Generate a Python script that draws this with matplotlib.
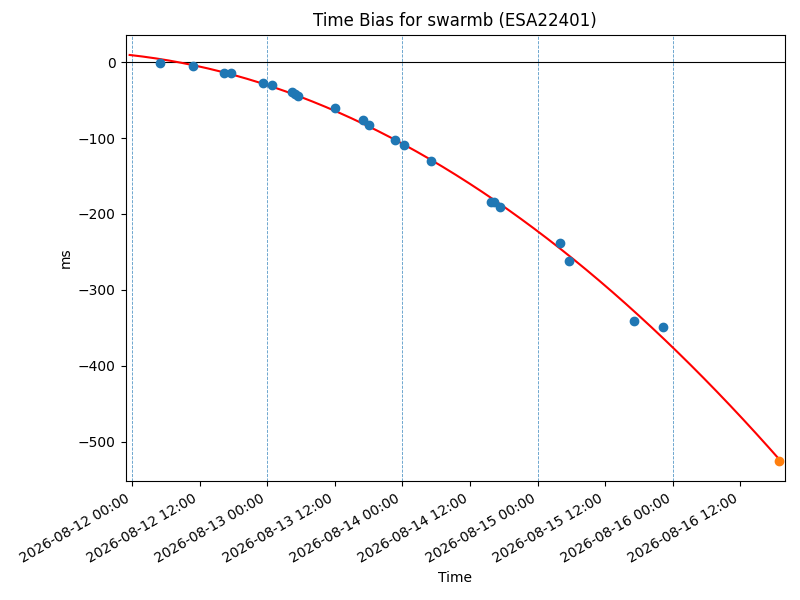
import matplotlib
matplotlib.use("Agg")
import matplotlib.pyplot as plt
import matplotlib.dates as mdates
import numpy as np
import pandas as pd

# Measured time bias points (ms)
times = ["2026-08-12 04:54", "2026-08-12 10:45", "2026-08-12 16:25", "2026-08-12 17:34",
         "2026-08-12 23:10", "2026-08-13 00:46", "2026-08-13 04:22", "2026-08-13 05:01",
         "2026-08-13 05:27", "2026-08-13 12:07", "2026-08-13 17:05", "2026-08-13 17:59",
         "2026-08-13 22:45", "2026-08-14 00:19", "2026-08-14 05:05", "2026-08-14 15:40",
         "2026-08-14 16:16", "2026-08-14 17:20", "2026-08-15 04:02", "2026-08-15 05:37",
         "2026-08-15 17:10", "2026-08-15 22:18"]
bias_ms = [-1.3, -4.9, -14.5, -14.5, -27.7, -30.3, -39.5, -41.8, -44.0, -60.2,
           -76.5, -83.0, -102.8, -109.0, -130.0, -184.1, -184.1, -191.1,
           -238.5, -262.3, -341.0, -348.8]

# Predicted point
pred_time = "2026-08-16 18:49"
pred_ms = -525.5

# Fit curve range
fit_start = "2026-08-11 23:35"
fit_end = pred_time

midnights = ["2026-08-12", "2026-08-13", "2026-08-14", "2026-08-15", "2026-08-16"]

t = pd.to_datetime(times)
t0 = pd.Timestamp("2026-08-12")
td = (t - t0) / pd.Timedelta(days=1)
coef = np.polyfit(td, bias_ms, 2)

fit_t = pd.date_range(fit_start, fit_end, periods=200)
fit_td = (fit_t - t0) / pd.Timedelta(days=1)
fit_v = np.polyval(coef, fit_td)

fig = plt.figure(figsize=(8, 6), dpi=100)
ax = fig.add_subplot(111)
fig.subplots_adjust(left=0.157, right=0.981, top=0.942, bottom=0.198)

for m in midnights:
    ax.axvline(pd.Timestamp(m), color="C0", linestyle="--", linewidth=0.6, alpha=0.75)
ax.axhline(0, color="black", linewidth=0.8)
ax.plot(fit_t, fit_v, color="red", linewidth=1.5)
ax.plot(t, bias_ms, "o", color="C0")
ax.plot([pd.Timestamp(pred_time)], [pred_ms], "o", color="C1")

ax.set_xlim(pd.Timestamp("2026-08-11 22:52"), pd.Timestamp("2026-08-16 19:52"))
ax.set_ylim(-552, 36)
ax.xaxis.set_major_locator(mdates.HourLocator(byhour=[0, 12]))
ax.xaxis.set_major_formatter(mdates.DateFormatter("%Y-%m-%d %H:%M"))
for lab in ax.get_xticklabels():
    lab.set_rotation(30)
    lab.set_ha("right")

ax.set_title("Time Bias for swarmb (ESA22401)")
ax.set_xlabel("Time")
ax.set_ylabel("ms")

fig.savefig("out.png", dpi=100)
